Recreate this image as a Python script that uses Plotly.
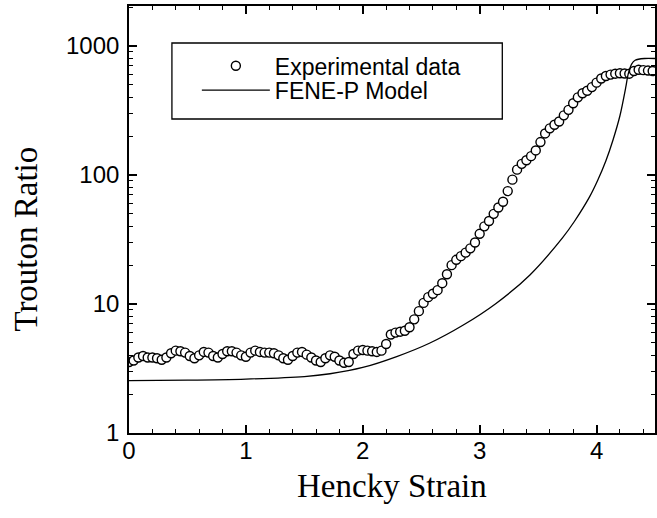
import plotly.graph_objects as go

strain = [round(i * 0.04, 2) for i in range(113)]
trouton_exp = [
    3.55, 3.65, 3.85, 3.95, 3.85, 3.85, 3.8, 3.7, 3.85, 4.15,
    4.35, 4.3, 4.2, 3.95, 3.8, 4.0, 4.25, 4.2, 3.95, 3.85,
    4.1, 4.3, 4.3, 4.2, 4.0, 3.9, 4.2, 4.35, 4.25, 4.2,
    4.2, 4.15, 4.0, 3.8, 3.7, 3.95, 4.2, 4.25, 4.05, 3.85,
    3.65, 3.55, 3.8, 4.0, 3.9, 3.65, 3.5, 3.55, 4.1, 4.35,
    4.4, 4.35, 4.3, 4.25, 4.35, 4.9, 5.8, 6.0, 6.1, 6.2,
    6.6, 7.6, 8.8, 10.2, 11.3, 12.0, 12.8, 14.5, 17, 20,
    22, 23.5, 25, 27, 30, 35, 40, 44, 50, 56,
    62, 75, 92, 110, 122, 130, 140, 155, 180, 210,
    230, 245, 260, 290, 320, 360, 400, 430, 450, 480,
    520, 560, 585, 600, 610, 615, 612, 610, 640, 655,
    650, 645, 640,
]

# FENE-P model curve
model_strain = [0.0, 0.5, 1.0, 1.5, 1.72, 2.0, 2.29, 2.57, 2.86, 3.14,
                3.43, 3.71, 3.81, 3.94, 4.01, 4.08, 4.14, 4.2, 4.25, 4.27,
                4.3, 4.33, 4.41, 4.5]
model_trouton = [2.55, 2.57, 2.62, 2.74, 2.88, 3.22, 3.91, 4.96, 6.87, 10.1,
                 16.8, 32.7, 43.6, 67.6, 91, 129, 186, 288, 479, 603,
                 724, 776, 800, 800]

x_ticks = [0, 1, 2, 3, 4]
y_ticks = [1, 10, 100, 1000]

SANS = "Arial, Liberation Sans, sans-serif"
SERIF = "Times New Roman, Liberation Serif, serif"

fig = go.Figure()

fig.add_trace(go.Scatter(
    x=strain, y=trouton_exp,
    mode="markers",
    name="Experimental data",
    marker=dict(symbol="circle", size=9, color="white",
                line=dict(color="black", width=1.4)),
    legend="legend",
))

fig.add_trace(go.Scatter(
    x=model_strain, y=model_trouton,
    mode="lines",
    name="FENE-P Model",
    line=dict(color="black", width=1.3, shape="spline", smoothing=0.8),
    legend="legend2",
))

axis_common = dict(
    showline=True, linecolor="black", linewidth=1.6,
    mirror="ticks", ticks="inside", ticklen=8, tickwidth=1.5,
    tickcolor="black", showgrid=False, zeroline=False,
    tickfont=dict(family=SANS, size=24, color="black"),
)

fig.update_xaxes(
    range=[0, 4.5], tickvals=x_ticks, ticklabelstandoff=-5,
    minor=dict(ticks="inside", ticklen=4, tickwidth=1.2,
               tickcolor="black", dtick=0.2, showgrid=False),
    **axis_common,
)
fig.update_yaxes(
    type="log", range=[0, 3.31], tickvals=y_ticks,
    ticktext=[str(v) for v in y_ticks], ticklabelstandoff=3,
    minor=dict(ticks="inside", ticklen=4, tickwidth=1.2,
               tickcolor="black", dtick="D1", showgrid=False),
    **axis_common,
)

legend_common = dict(
    bgcolor="rgba(0,0,0,0)", borderwidth=0,
    font=dict(family=SANS, size=23, color="black"),
    itemwidth=68, xanchor="left", yanchor="middle",
)

fig.update_layout(
    width=657, height=518,
    margin=dict(l=129, r=0, t=6, b=85),
    paper_bgcolor="white", plot_bgcolor="white",
    showlegend=True,
    legend=dict(x=0.129, y=0.860, **legend_common),
    legend2=dict(x=0.129, y=0.803, **legend_common),
    shapes=[dict(type="rect", xref="paper", yref="paper",
                 x0=0.0816, x1=0.7097, y0=0.7354, y1=0.9133,
                 line=dict(color="black", width=1.3))],
    annotations=[
        dict(text="Hencky Strain", xref="paper", yref="paper",
             x=0.5, y=-0.125, xanchor="center", yanchor="middle",
             showarrow=False, font=dict(family=SERIF, size=33, color="black")),
        dict(text="Trouton Ratio", xref="paper", yref="paper",
             x=-0.196, y=0.455, xanchor="center", yanchor="middle",
             textangle=-90, showarrow=False,
             font=dict(family=SERIF, size=33, color="black")),
    ],
)

fig.write_html("out.html", config={"displayModeBar": False},
               post_script="document.body.style.margin='0';")
